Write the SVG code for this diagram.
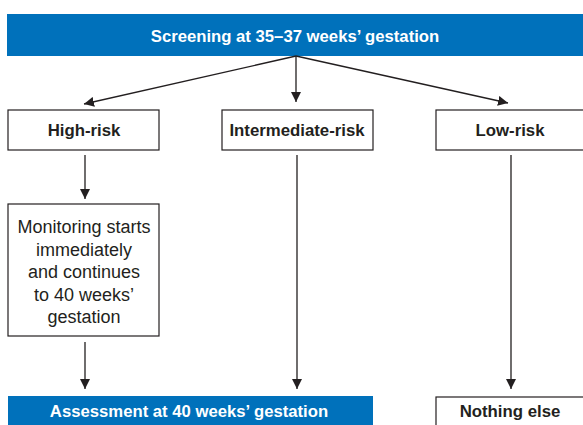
<svg xmlns="http://www.w3.org/2000/svg" width="583" height="425" viewBox="0 0 583 425">
<style>
.bar{fill:#0071bb}
.box{fill:#fff;stroke:#231f20;stroke-width:1.2}
.wt{fill:#fff;font-family:"Liberation Sans",Arial,sans-serif;font-weight:bold;font-size:16.7px;text-anchor:middle}
.bt{fill:#231f20;font-family:"Liberation Sans",Arial,sans-serif;font-weight:bold;font-size:16.8px;text-anchor:middle}
.nt{fill:#231f20;font-family:"Liberation Sans",Arial,sans-serif;font-size:18px;text-anchor:middle}
.ln{stroke:#231f20;stroke-width:1.3;fill:none;marker-end:url(#ah)}
</style>
<defs>
<marker id="ah" viewBox="0 0 10 10" refX="10" refY="5" markerWidth="10" markerHeight="10" markerUnits="userSpaceOnUse" orient="auto">
<path d="M0,0 L10,5 L0,10 z" fill="#231f20"/>
</marker>
</defs>
<rect width="583" height="425" fill="#fff"/>
<g id="screening">
<rect class="bar" x="7" y="14" width="576" height="42"/>
<text class="wt" x="295" y="42">Screening at 35–37 weeks’ gestation</text>
</g>
<g id="high-risk">
<rect class="box" x="8" y="110" width="151" height="40"/>
<text class="bt" x="84" y="136">High-risk</text>
</g>
<g id="intermediate-risk">
<rect class="box" x="222" y="110" width="151" height="40"/>
<text class="bt" x="297" y="136">Intermediate-risk</text>
</g>
<g id="low-risk">
<rect class="box" x="436" y="110" width="150" height="40"/>
<text class="bt" x="510" y="136">Low-risk</text>
</g>
<g id="monitoring">
<rect class="box" x="8" y="204" width="151" height="132"/>
<text class="nt" x="84" y="233">Monitoring starts</text>
<text class="nt" x="84" y="255.5">immediately</text>
<text class="nt" x="84" y="278">and continues</text>
<text class="nt" x="84" y="300.5">to 40 weeks’</text>
<text class="nt" x="84" y="323">gestation</text>
</g>
<g id="assessment">
<rect class="bar" x="8" y="396" width="365" height="30"/>
<text class="wt" x="189" y="417">Assessment at 40 weeks’ gestation</text>
</g>
<g id="nothing-else">
<rect class="box" x="436" y="397" width="150" height="40"/>
<text class="bt" x="510" y="417">Nothing else</text>
</g>
<g id="connectors">
<line class="ln" x1="296" y1="56" x2="84" y2="104"/>
<line class="ln" x1="296" y1="56" x2="296" y2="102"/>
<line class="ln" x1="296" y1="56" x2="508" y2="103"/>
<line class="ln" x1="85" y1="155" x2="85" y2="199"/>
<line class="ln" x1="85" y1="342" x2="85" y2="389"/>
<line class="ln" x1="297" y1="155" x2="297" y2="389"/>
<line class="ln" x1="511" y1="155" x2="511" y2="389"/>
</g>
</svg>
